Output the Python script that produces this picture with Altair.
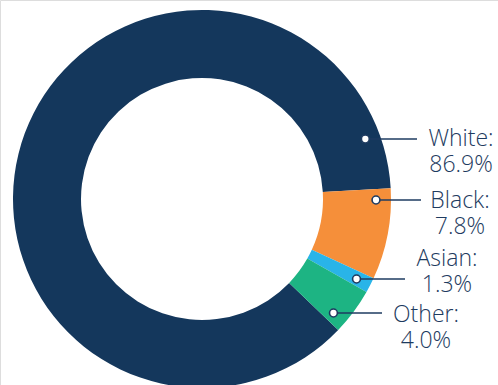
import math
import altair as alt
import pandas as pd

# ---- data ----
categories = ["White", "Black", "Asian", "Other"]
shares = [86.9, 7.8, 1.3, 4.0]
colors = ["#14375C", "#F58F3A", "#29B4E8", "#1DB483"]

# ---- layout (pixels) ----
CX, CY = 202, 199
R_OUT, R_IN = 189, 121
R_DOT = 174
START = math.radians(133.9)
LINE_H = 26
label_cx = [461, 460, 447, 426]        # centre of label text
label_base = [146, 208, 266, 322]      # baseline of first text line
leader_y = [139, 200, 279, 313]        # height of leader line
leader_end = [417, 421, 405, 382]      # right end of leader line
TEXT = "#1E3B60"

df = pd.DataFrame({
    "cat": categories,
    "share": shares,
    "idx": list(range(len(categories))),
    "name": [f"{c}:" for c in categories],
    "pct": [f"{v:.1f}%" for v in shares],
    "lx": label_cx,
    "ly": label_base,
    "ly2": [b + LINE_H for b in label_base],
    "py": leader_y,
    "pend": leader_end,
})
df["px"] = [CX + math.sqrt(R_DOT**2 - (y - CY) ** 2) for y in leader_y]

base = alt.Chart(df)

donut = base.mark_arc(radius=R_OUT, radius2=R_IN).encode(
    theta=alt.Theta("share:Q", stack=True,
                    scale=alt.Scale(range=[START, START + 2 * math.pi])),
    order=alt.Order("idx:Q"),
    color=alt.Color("cat:N", scale=alt.Scale(domain=categories, range=colors), legend=None),
    x=alt.value(CX),
    y=alt.value(CY),
)

leaders = base.mark_rule(color=TEXT, strokeWidth=1.3).encode(
    x=alt.X("px:Q", scale=None),
    x2="pend:Q",
    y=alt.Y("py:Q", scale=None),
)

dots = base.mark_point(shape="circle", filled=True, fill="white", stroke=TEXT,
                       strokeWidth=1.6, size=62, opacity=1).encode(
    x=alt.X("px:Q", scale=None),
    y=alt.Y("py:Q", scale=None),
)

text_style = dict(font="Open Sans", fontWeight=300, fontSize=23, color=TEXT,
                  align="center", baseline="alphabetic")

names = base.mark_text(**text_style).encode(
    x=alt.X("lx:Q", scale=None),
    y=alt.Y("ly:Q", scale=None),
    text="name:N",
)
pcts = base.mark_text(**text_style).encode(
    x=alt.X("lx:Q", scale=None),
    y=alt.Y("ly2:Q", scale=None),
    text="pct:N",
)

chart = alt.layer(donut, leaders, dots, names, pcts).properties(
    width=498, height=385, padding=0,
    autosize=alt.AutoSizeParams(type="none"),
).configure_view(stroke=None).configure(background="white")

chart.save("out.html", embed_options={"renderer": "svg", "actions": False})
